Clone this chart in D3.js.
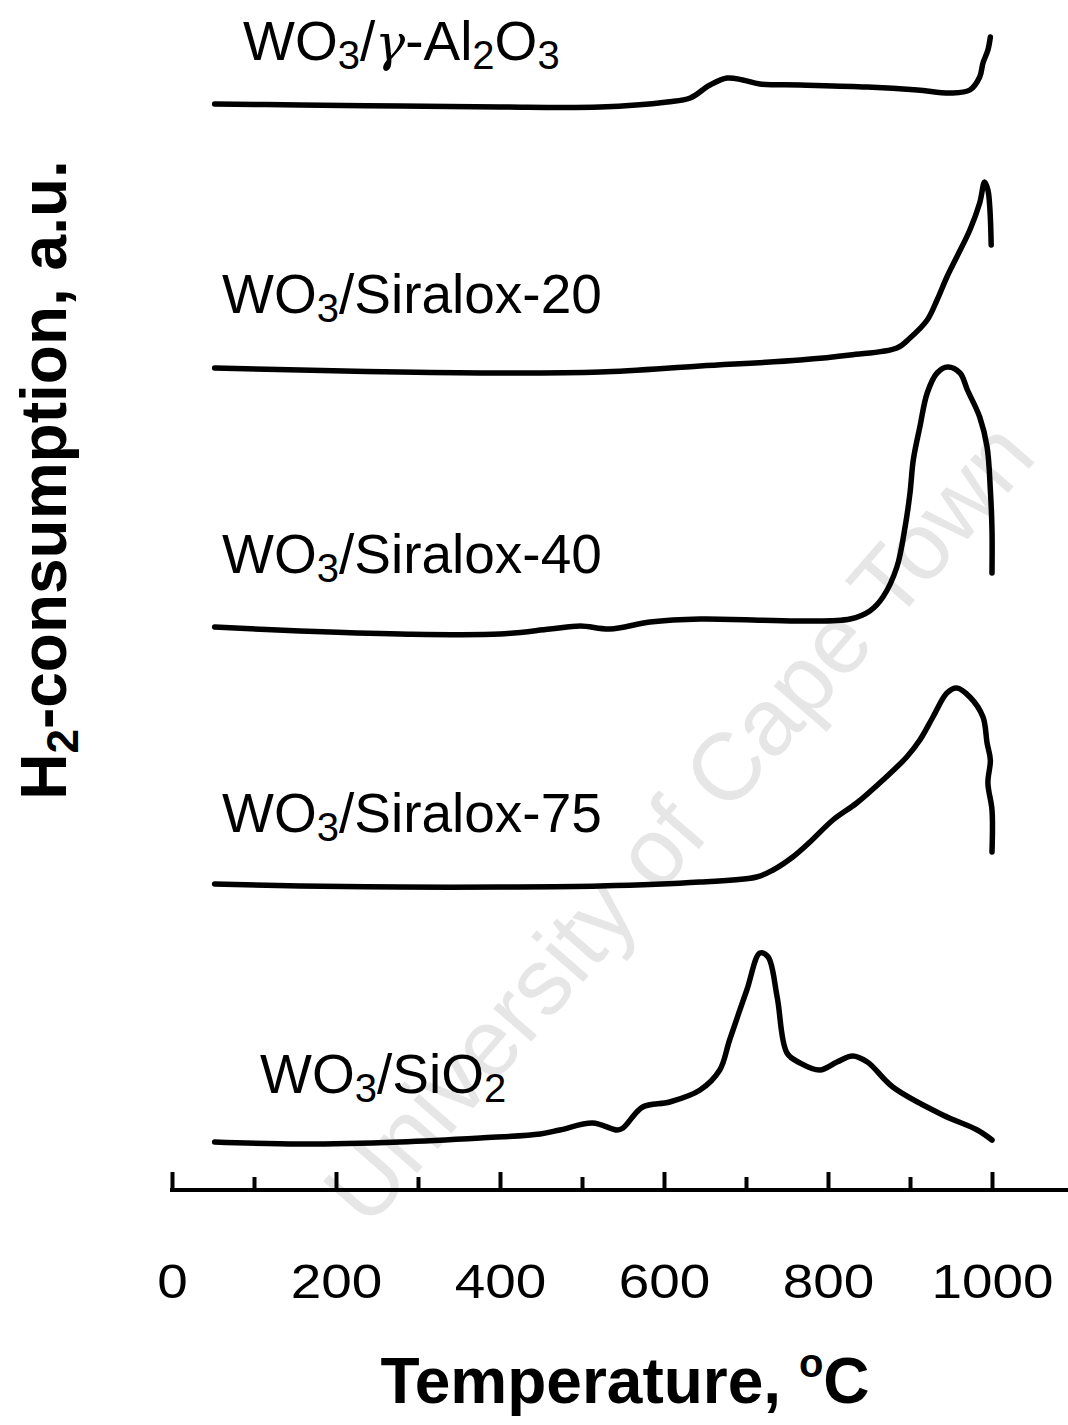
<!DOCTYPE html>
<html>
<head>
<meta charset="utf-8">
<script src="https://cdn.jsdelivr.net/npm/d3@7"></script>
<style>
  body { margin: 0; background: #fff; }
  svg { display: block; font-family: "Liberation Sans", Arial, sans-serif; }
</style>
</head>
<body>
<div class="chart"></div>
<script>
// temperature (C) / H2 signal (a.u., stacked with offsets)
var al2o3T = [52,156,278,400,522,604,632,656,677,696,717,766,848,909,949,973,985,989,995,998];
var al2o3V = [108.6,108.5,108.4,108.3,108.3,108.8,109.2,110.5,111.2,111.0,110.6,110.5,110.3,110.0,109.7,110.0,111.3,112.7,114.0,115.3];

var s20T = [52,156,278,400,522,644,766,827,884,900,921,933,945,957,973,985,991,995,997.5,999];
var s20V = [82.2,82.0,81.8,81.7,81.8,82.4,83.0,83.5,84.2,85.2,87.0,89.0,91.3,93.3,96.0,98.7,100.8,100.0,98.0,94.5];

var s40T = [52,156,278,400,461,498,534,583,644,766,827,851,867,884,894,900,904,912,921,933,946,961,970,985,994,998,1000,1000];
var s40V = [56.3,55.9,55.6,55.6,56.1,56.4,56.1,56.8,57.1,56.9,57.1,57.9,59.3,62.3,66.3,69.7,73.0,76.3,79.7,81.7,82.3,81.7,80.0,77.3,74.3,70.0,66.0,61.7];

var s75T = [52,156,278,400,522,644,713,733,757,778,806,835,867,896,912,928,945,957,973,989,994,998,995,1000,1000];
var s75V = [30.6,30.4,30.3,30.3,30.4,30.8,31.3,32.0,33.3,34.8,37.0,38.7,41.0,43.3,45.0,47.3,49.7,50.2,49.3,47.3,44.7,43.0,40.7,38.0,33.8];

var sio2T = [52,156,278,376,449,473,513,543,550,574,607,644,668,680,701,717,727,738,750,766,790,811,830,848,879,940,982,1000];
var sio2V = [4.8,4.6,4.8,5.2,5.6,6.0,6.7,6.0,6.2,8.3,8.8,10.0,12.0,15.0,20.0,23.7,23.3,19.3,13.7,12.7,12.0,12.8,13.4,12.8,10.3,7.5,6.0,5.0];

var majorTicks = [0,200,400,600,800,1000];
var minorTicks = [100,300,500,700,900];

var W = 1068, H = 1425;
var svg = d3.select(".chart").append("svg")
    .attr("width", W)
    .attr("height", H);

var x = d3.scaleLinear().domain([0, 1000]).range([172, 992]);
var y = d3.scaleLinear().domain([0, 120]).range([1190, -10]);

// watermark
svg.append("text")
    .attr("transform", "translate(678,822) rotate(-49)")
    .attr("text-anchor", "middle")
    .attr("dy", "0.35em")
    .style("font-size", "95px")
    .style("fill", "#e6e6e6")
    .text("University of Cape Town");

// axis
svg.append("line")
    .attr("x1", x(0) - 2).attr("x2", W)
    .attr("y1", y(0)).attr("y2", y(0))
    .style("stroke", "#000").style("stroke-width", 4);

var gMinor = svg.append("g")
    .attr("transform", "translate(0," + y(0) + ")")
    .call(d3.axisBottom(x).tickValues(minorTicks).tickSize(-13).tickSizeOuter(0).tickFormat(""));
var gMajor = svg.append("g")
    .attr("transform", "translate(0," + y(0) + ")")
    .call(d3.axisBottom(x).tickValues(majorTicks).tickSize(-18).tickSizeOuter(0).tickFormat(d3.format("d")));

svg.selectAll(".domain").remove();
svg.selectAll(".tick line").style("stroke", "#000").style("stroke-width", 4);
gMajor.selectAll(".tick text")
    .attr("y", 0).attr("dy", 0)
    .attr("transform", "translate(0,108) scale(1.12,1)")
    .style("font-size", "49px")
    .style("font-family", "'Liberation Sans', Arial, sans-serif")
    .style("fill", "#000");

// curves
var series = [
  {t: al2o3T, v: al2o3V},
  {t: s20T, v: s20V},
  {t: s40T, v: s40V},
  {t: s75T, v: s75V},
  {t: sio2T, v: sio2V}
];

var line = d3.line()
    .x(function(d) { return x(d[0]); })
    .y(function(d) { return y(d[1]); })
    .curve(d3.curveCatmullRom.alpha(0.5));

svg.selectAll(".curve")
    .data(series)
  .enter().append("path")
    .attr("class", "curve")
    .attr("d", function(s) { return line(d3.zip(s.t, s.v)); })
    .style("fill", "none")
    .style("stroke", "#000")
    .style("stroke-width", 5.5)
    .style("stroke-linecap", "round")
    .style("stroke-linejoin", "round");

// sample labels: [text, kind] pieces (1 = subscript, 2 = greek)
var labels = [
  [["WO", 0], ["3", 1], ["/", 0], ["\u03b3", 2], ["-Al", 0], ["2", 1], ["O", 0], ["3", 1]],
  [["WO", 0], ["3", 1], ["/Siralox-20", 0]],
  [["WO", 0], ["3", 1], ["/Siralox-40", 0]],
  [["WO", 0], ["3", 1], ["/Siralox-75", 0]],
  [["WO", 0], ["3", 1], ["/SiO", 0], ["2", 1]]
];
var labelPos = [[243, 60], [222, 313], [222, 573], [222, 832], [260, 1093]];

labels.forEach(function(parts, i) {
  var t = svg.append("text")
      .attr("x", labelPos[i][0])
      .attr("y", labelPos[i][1])
      .style("font-size", "55px");
  parts.forEach(function(p) {
    var ts = t.append("tspan")
      .attr("y", labelPos[i][1] + (p[0 + 1] === 1 ? 9 : 0))
      .style("font-size", p[1] === 1 ? "40px" : "55px")
      .text(p[0]);
    if (p[1] === 2) ts.style("font-family", "'DejaVu Serif', serif").style("font-style", "italic").style("font-size", "50px");
  });
});

// axis titles
var xt = svg.append("text")
    .attr("x", 625)
    .attr("y", 1403)
    .attr("text-anchor", "middle")
    .style("font-size", "64px")
    .style("font-weight", "bold");
xt.append("tspan").text("Temperature, ");
xt.append("tspan").attr("dy", -26).style("font-size", "40px").text("o");
xt.append("tspan").attr("dy", 26).text("C");

var yt = svg.append("text")
    .attr("transform", "translate(66,480) rotate(-90)")
    .attr("text-anchor", "middle")
    .style("font-size", "64px")
    .style("font-weight", "bold");
yt.append("tspan").text("H");
yt.append("tspan").attr("dy", 12).style("font-size", "44px").text("2");
yt.append("tspan").attr("dy", -12).text("-consumption, a.u.");
</script>
</body>
</html>
